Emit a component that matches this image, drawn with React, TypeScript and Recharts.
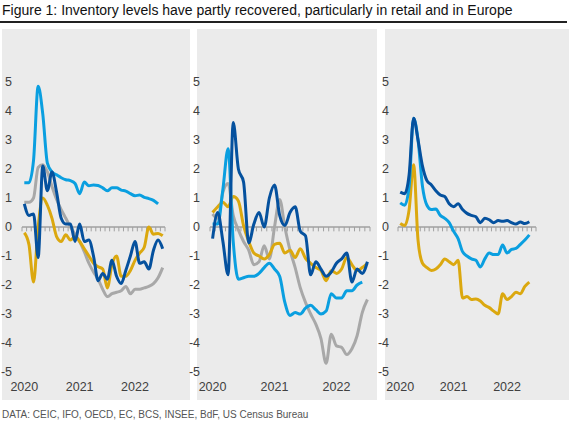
import React from "react";
import { LineChart, Line, XAxis, YAxis, ReferenceLine } from "recharts";

// Monthly points, Jan 2020 .. Jul 2022 (index 0..30)
const years = ["2020", "2021", "2022"];
const yearTicks = [0.5, 12.5, 24.5];
const valueTicks = [-5, -4, -3, -2, -1, 0, 1, 2, 3, 4, 5];
const monthTicks = Array.from({ length: 32 }, (_, i) => i);

// Panel 1
const p1Gray = [0.85, 0.85, 1.0, 2.05, 2.15, 1.9, 1.4, 0.95, 0.6, 0.3, 0.0, -0.25, -0.5, -0.85, -1.25, -1.55, -1.8, -2.15, -2.4, -2.3, -2.25, -2.2, -2.05, -2.3, -2.15, -2.15, -2.1, -2.05, -1.95, -1.75, -1.4];
const p1Gold = [-0.2, -0.6, -1.9, 0.0, 1.0, 0.75, 0.3, -0.33, -0.5, -0.27, -0.45, -0.33, -0.5, -0.75, -1.0, -1.25, -1.37, -1.45, -2.1, -1.3, -1.0, -1.7, -1.7, -1.5, -1.15, -0.9, -0.7, 0.0, -0.25, -0.22, -0.3];
const p1Light = [1.53, 1.53, 2.3, 4.85, 3.9, 2.2, 1.9, 1.8, 1.7, 1.63, 1.6, 1.5, 1.15, 1.55, 1.42, 1.45, 1.43, 1.35, 1.25, 1.35, 1.35, 1.27, 1.24, 1.15, 1.08, 1.1, 1.02, 0.98, 0.92, 0.8];
const p1Dark = [0.8, 0.4, 0.45, -1.05, 2.1, 1.25, 1.9, 1.2, 0.3, 0.1, 0.1, -0.5, 0.1, -0.5, -0.45, -1.0, -1.85, -1.6, -1.8, -1.15, -1.7, -1.95, -1.5, -1.0, -0.5, -1.25, -1.2, -1.45, -0.8, -0.45, -0.75];

// Panel 2
const p2Gray = [0.45, 0.3, 1.2, 1.5, 0.4, -0.1, -0.5, -0.8, -1.3, -1.2, -0.65, -1.1, 0.0, 0.95, 0.0, -0.8, -1.4, -2.1, -2.6, -3.0, -3.35, -3.85, -4.7, -3.7, -4.1, -4.15, -4.4, -4.2, -3.75, -2.95, -2.5];
const p2Gold = [0.5, 0.7, 0.85, 0.7, 1.05, 0.9, 0.05, -0.5, -0.9, -1.0, -1.1, -0.95, -0.6, -0.56, -0.9, -0.8, -1.05, -0.75, -1.08, -1.25, -1.4, -1.5, -1.85, -1.5, -1.6, -1.45, -1.05, -1.3, -1.5, -1.4, -1.25];
const p2Light = [0.1, 0.1, 1.3, 2.7, -0.5, -1.8, -1.75, -1.7, -1.7, -1.6, -1.4, -1.25, -1.45, -1.7, -2.6, -3.05, -2.95, -3.0, -2.8, -2.7, -2.85, -3.0, -2.9, -2.3, -2.45, -2.45, -2.2, -2.2, -2.0, -1.9];
const p2Dark = [-0.4, 0.5, -0.5, -1.65, 3.6, 2.0, 1.55, -0.55, 0.1, 0.5, 0.0, 1.0, 1.45, 0.4, 0.05, 0.5, 0.7, -0.15, -0.3, -1.65, -1.2, -1.45, -1.7, -1.55, -1.25, -1.1, -0.9, -1.9, -1.45, -1.6, -1.2];

// Panel 3
const p3Gold = [0.12, 0.05, 0.6, 2.15, -0.45, -1.25, -1.4, -1.5, -1.45, -1.3, -1.1, -1.2, -1.3, -1.15, -2.45, -2.4, -2.5, -2.48, -2.55, -2.7, -2.78, -2.9, -3.0, -2.3, -2.5, -2.4, -2.25, -2.3, -2.05, -1.9];
const p3Light = [0.83, 0.75, 1.4, 3.75, 3.0, 1.4, 0.75, 0.6, 0.62, 0.4, 0.3, 0.15, -0.15, -0.4, -0.85, -1.0, -1.1, -1.15, -1.38, -1.1, -0.9, -0.95, -0.95, -0.62, -0.9, -0.77, -0.74, -0.6, -0.45, -0.27];
const p3Dark = [1.2, 1.15, 1.8, 3.75, 3.0, 2.1, 1.6, 1.45, 1.25, 1.1, 1.05, 0.8, 0.7, 0.8, 0.6, 0.47, 0.4, 0.35, 0.15, 0.3, 0.25, 0.15, 0.22, 0.2, 0.22, 0.15, 0.1, 0.17, 0.12, 0.18];

const COLORS = {
  gray: "#a8a8a8",
  gold: "#dba80f",
  light: "#0a9fe0",
  dark: "#05519e",
};

type Series = { key: string; values: number[]; color: string };

function toRows(series: Series[]) {
  return Array.from({ length: 31 }, (_, i) => {
    const row: Record<string, number | null> = { m: i + 0.5 };
    series.forEach((s) => {
      row[s.key] = s.values[i] ?? null;
    });
    return row;
  });
}

interface PanelProps {
  bgLeft: number;
  bgWidth: number;
  chartLeft: number;
  chartWidth: number;
  rightMargin: number;
  labelGap: number;
  series: Series[];
}

const TOP = 29;
const tickStyle = { fill: "#404040", fontSize: 12.5, fontFamily: "Liberation Sans, Arial, sans-serif" };

function Panel({ bgLeft, bgWidth, chartLeft, chartWidth, rightMargin, labelGap, series }: PanelProps) {
  const data = toRows(series);
  return (
    <>
      <div
        style={{
          position: "absolute",
          left: bgLeft,
          top: TOP,
          width: bgWidth,
          height: 371,
          background: "#ebebeb",
        }}
      />
      <div style={{ position: "absolute", left: chartLeft, top: TOP }}>
        <LineChart
          width={chartWidth}
          height={371}
          data={data}
          margin={{ top: 53, right: rightMargin, left: 0, bottom: 0 }}
        >
          <XAxis
            dataKey="m"
            type="number"
            domain={[0, 31]}
            ticks={yearTicks}
            tickFormatter={(v: number) => years[Math.round((v - 0.5) / 12)]}
            axisLine={false}
            tickLine={false}
            tickSize={0}
            tickMargin={10}
            height={28}
            tick={tickStyle}
            interval={0}
          />
          <YAxis
            type="number"
            domain={[-5, 5]}
            ticks={valueTicks}
            axisLine={false}
            tickLine={false}
            tickSize={0}
            tickMargin={labelGap}
            width={22}
            tick={tickStyle}
            interval={0}
          />
          <ReferenceLine y={0} stroke="#a0a0a0" strokeWidth={1.5} />
          {monthTicks.map((t) => (
            <ReferenceLine
              key={t}
              segment={[
                { x: t, y: 0 },
                { x: t, y: -0.15 },
              ]}
              stroke="#a0a0a0"
              strokeWidth={1}
            />
          ))}
          {series.map((s) => (
            <Line
              key={s.key}
              dataKey={s.key}
              type="monotone"
              stroke={s.color}
              strokeWidth={3}
              dot={false}
              activeDot={false}
              isAnimationActive={false}
            />
          ))}
        </LineChart>
      </div>
    </>
  );
}

export default function App() {
  return (
    <div
      style={{
        position: "absolute",
        left: 0,
        top: 0,
        width: 569,
        height: 421,
        background: "#fff",
        fontFamily: "Liberation Sans, Arial, sans-serif",
        overflow: "hidden",
      }}
    >
      <div
        style={{
          position: "absolute",
          left: 2,
          top: 2,
          fontSize: 14,
          color: "#111",
          whiteSpace: "nowrap",
        }}
      >
        Figure 1: Inventory levels have partly recovered, particularly in retail and in Europe
      </div>
      <div
        style={{
          position: "absolute",
          left: 0,
          top: 21,
          width: 567,
          height: 2,
          background: "#222",
        }}
      />
      <Panel
        bgLeft={2}
        bgWidth={188}
        chartLeft={0}
        chartWidth={190}
        rightMargin={25}
        labelGap={10}
        series={[
          { key: "gray", values: p1Gray, color: COLORS.gray },
          { key: "gold", values: p1Gold, color: COLORS.gold },
          { key: "light", values: p1Light, color: COLORS.light },
          { key: "dark", values: p1Dark, color: COLORS.dark },
        ]}
      />
      <Panel
        bgLeft={197}
        bgWidth={180}
        chartLeft={188}
        chartWidth={189}
        rightMargin={7}
        labelGap={10}
        series={[
          { key: "gray", values: p2Gray, color: COLORS.gray },
          { key: "gold", values: p2Gold, color: COLORS.gold },
          { key: "light", values: p2Light, color: COLORS.light },
          { key: "dark", values: p2Dark, color: COLORS.dark },
        ]}
      />
      <Panel
        bgLeft={385}
        bgWidth={184}
        chartLeft={376}
        chartWidth={193}
        rightMargin={33}
        labelGap={9}
        series={[
          { key: "gold", values: p3Gold, color: COLORS.gold },
          { key: "light", values: p3Light, color: COLORS.light },
          { key: "dark", values: p3Dark, color: COLORS.dark },
        ]}
      />
      <div
        style={{
          position: "absolute",
          left: 2,
          top: 409,
          fontSize: 10,
          color: "#555",
          whiteSpace: "nowrap",
        }}
      >
        DATA: CEIC, IFO, OECD, EC, BCS, INSEE, BdF, US Census Bureau
      </div>
    </div>
  );
}
